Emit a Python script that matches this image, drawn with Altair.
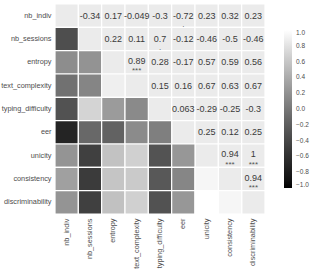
import altair as alt
import pandas as pd

variables = [
    "nb_indiv", "nb_sessions", "entropy", "text_complexity",
    "typing_difficulty", "eer", "unicity", "consistency", "discriminability",
]

# Correlations right of the diagonal, one list per row
corr_upper = [
    [-0.34, 0.17, -0.049, -0.3, -0.72, 0.23, 0.32, 0.23],
    [0.22, 0.11, 0.7, -0.12, -0.46, -0.5, -0.46],
    [0.89, 0.28, -0.17, 0.57, 0.59, 0.56],
    [0.15, 0.16, 0.67, 0.63, 0.67],
    [0.063, -0.29, -0.25, -0.3],
    [0.25, 0.12, 0.25],
    [0.94, 1.0],
    [0.94],
]

# Significance codes for the same pairs
signif_upper = [
    ["", "", "", "", ".", "", "", ""],
    ["", "", ".", "", "", "", ""],
    ["***", "", "", "", "", ""],
    ["", "", "", "", ""],
    ["", "", "", ""],
    ["", "", ""],
    ["***", "***"],
    ["***"],
]

legend_ticks = [1.0, 0.8, 0.6, 0.4, 0.2, 0.0, -0.2, -0.4, -0.6, -0.8, -1.0]

records = []
n = len(variables)
for i in range(n):
    for j in range(n):
        if i == j:
            part, r, sig = "diag", None, ""
        elif i < j:
            r = corr_upper[i][j - i - 1]
            sig = signif_upper[i][j - i - 1]
            part = "upper"
        else:
            r = corr_upper[j][i - j - 1]
            sig = ""
            part = "lower"
        records.append({
            "row": variables[i],
            "col": variables[j],
            "r": r,
            "part": part,
            "label": f"{r:.2g}" if r is not None else "",
            "sig": sig,
        })
df = pd.DataFrame(records)

font = "Liberation Sans"

x_enc = alt.X(
    "col:N", sort=variables,
    scale=alt.Scale(paddingInner=0, paddingOuter=0),
    axis=alt.Axis(title=None, labelAngle=-90, labelAlign="right",
                  labelBaseline="middle", labelPadding=4),
)
y_enc = alt.Y(
    "row:N", sort=variables,
    scale=alt.Scale(paddingInner=0, paddingOuter=0),
    axis=alt.Axis(title=None, labelPadding=4),
)

base = alt.Chart(df).encode(x=x_enc, y=y_enc)

blank = base.mark_rect(fill="#EBEBEB", stroke="white", strokeWidth=1.2).transform_filter(
    "datum.part != 'lower'"
)

lower = base.mark_rect(stroke="white", strokeWidth=1.2).encode(
    fill=alt.Fill(
        "r:Q",
        scale=alt.Scale(domain=[-1, 1], range=["black", "white"], interpolate="lab"),
        legend=alt.Legend(
            title=None, orient="none", legendX=229, legendY=26,
            direction="vertical", gradientLength=158, gradientThickness=8,
            gradientStrokeWidth=0, values=legend_ticks, format=".1f",
            labelFont=font, labelFontSize=6.5, labelColor="#4d4d4d",
            labelOffset=4, labelBaseline="middle", labelOverlap=False,
        ),
    )
).transform_filter("datum.part == 'lower'")

numbers_plain = base.mark_text(
    font=font, fontSize=9, color="#3a3a3a", baseline="middle"
).encode(text="label:N").transform_filter(
    "datum.part == 'upper' && datum.sig != '***'"
)

numbers_starred = base.mark_text(
    font=font, fontSize=9, color="#3a3a3a", baseline="middle", dy=-1.5
).encode(text="label:N").transform_filter(
    "datum.part == 'upper' && datum.sig == '***'"
)

stars = base.mark_text(
    font=font, fontSize=8, color="#555555", baseline="middle", dy=9
).encode(text="sig:N").transform_filter(
    "datum.part == 'upper' && datum.sig != ''"
)

chart = (
    alt.layer(blank, lower, numbers_plain, numbers_starred, stars)
    .properties(
        width=210, height=210,
        autosize=alt.AutoSizeParams(type="none"),
        padding={"left": 55, "top": 4, "right": 47, "bottom": 57},
    )
    .configure_view(stroke=None)
    .configure_axis(
        domain=False, ticks=False, grid=False,
        labelFont=font, labelFontSize=7.3, labelColor="#4d4d4d",
    )
)

chart.save("out.html", embed_options={"renderer": "svg", "actions": False})
